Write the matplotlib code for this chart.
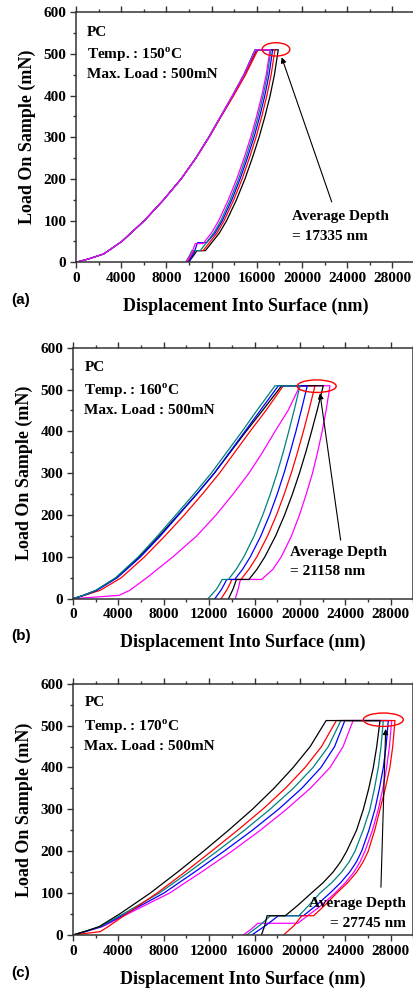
import matplotlib
matplotlib.use('Agg')
import matplotlib.pyplot as plt
from matplotlib.patches import Ellipse
from matplotlib.ticker import MultipleLocator

plt.rcParams['font.family'] = ['Liberation Serif', 'DejaVu Serif']
plt.rcParams['font.weight'] = 'bold'
plt.rcParams['mathtext.fontset'] = 'custom'
plt.rcParams['mathtext.rm'] = 'Liberation Serif:bold'
plt.rcParams['mathtext.bf'] = 'Liberation Serif:bold'

COLOR_MAP = {'black': '#000000', 'red': '#ff0000', 'blue': '#0000ff',
             'teal': '#008080', 'magenta': '#ff00ff'}

# ---------------- Panel (a) : 150 C ----------------
A_COLORS = ['black', 'red', 'blue', 'teal', 'magenta']
A_UP_LEVELS = [0, 8, 20, 50, 100, 150, 200, 250, 300, 350, 400, 450, 510]
A_UP = [
    [0, 1100, 2450, 4050, 6050, 7750, 9300, 10600, 11750, 12820, 13900, 14900, 16000],
    [0, 1100, 2450, 4050, 6050, 7750, 9300, 10620, 11780, 12850, 13950, 15000, 16100],
    [0, 1100, 2450, 4050, 6050, 7750, 9300, 10600, 11750, 12800, 13850, 14850, 15850],
    [0, 1100, 2450, 4050, 6050, 7750, 9300, 10600, 11750, 12800, 13850, 14850, 15850],
    [0, 1100, 2450, 4050, 6050, 7750, 9300, 10600, 11750, 12800, 13850, 14870, 15900],
]
A_DOWN_LEVELS = [510, 450, 400, 350, 300, 250, 200, 150, 100, 70]
A_DOWN = [
    [17900, 17560, 17180, 16720, 16200, 15600, 14950, 14200, 13330, 12680],
    [17600, 17270, 16890, 16440, 15930, 15340, 14700, 13960, 13110, 12470],
    [17400, 17080, 16710, 16260, 15750, 15160, 14520, 13790, 12950, 12300],
    [17250, 16930, 16560, 16110, 15600, 15020, 14380, 13650, 12820, 12180],
    [17170, 16830, 16440, 15980, 15460, 14870, 14220, 13480, 12630, 11980],
]
A_HOLD_LOAD = [28, 28, 47, 28, 45]
A_HOLD_START = [11450, 11250, 11550, 11000, 11250]
A_HOLD_END = [10700, 10450, 10750, 10250, 10550]
A_TAIL_LOAD = [14, 14, 23, 14, 22]
A_TAIL_MID = [10350, 10150, 10450, 10000, 10250]
A_ZERO = [9950, 9850, 9950, 9700, 9750]

# ---------------- Panel (b) : 160 C ----------------
B_COLORS = ['magenta', 'red', 'black', 'blue', 'teal']
B_UP_LEVELS = [0, 8, 20, 50, 100, 150, 200, 250, 300, 350, 400, 450, 509]
B_UP = [
    [0, 4050, 5000, 6500, 8800, 10900, 12600, 14100, 15500, 16700, 17800, 18950, 20000],
    [0, 1000, 2400, 4250, 6300, 8100, 9800, 11400, 12900, 14250, 15600, 17000, 18530],
    [0, 900, 2050, 3800, 5850, 7600, 9250, 10900, 12450, 13850, 15250, 16700, 18380],
    [0, 950, 2100, 3900, 5950, 7700, 9300, 10900, 12450, 13800, 15150, 16500, 18090],
    [0, 900, 2000, 3750, 5750, 7450, 9050, 10650, 12180, 13540, 14900, 16200, 17800],
]
B_DOWN_LEVELS = [509, 450, 400, 350, 300, 250, 200, 150, 100, 70]
B_DOWN = [
    [22640, 22300, 21950, 21550, 21100, 20550, 19950, 19250, 18350, 17600],
    [21320, 20780, 20300, 19780, 19230, 18610, 17930, 17140, 16200, 15490],
    [22050, 21510, 21020, 20510, 19950, 19330, 18640, 17850, 16900, 16200],
    [20640, 20110, 19640, 19130, 18590, 17990, 17320, 16550, 15620, 14930],
    [20000, 19480, 19010, 18520, 17980, 17380, 16720, 15960, 15050, 14370],
]
B_HOLD_LOAD = [46, 46, 46, 46, 46]
B_HOLD_START = [16620, 14800, 15500, 14250, 13700]
B_HOLD_END = [14750, 14000, 14400, 13550, 13150]
B_TAIL_LOAD = [23, 23, 23, 23, 23]
B_TAIL_MID = [14550, 13600, 14100, 13100, 12650]
B_ZERO = [14300, 13050, 13700, 12500, 11900]

# ---------------- Panel (c) : 170 C ----------------
C_COLORS = ['magenta', 'blue', 'teal', 'red', 'black']
C_UP_LEVELS = [0, 8, 20, 50, 100, 150, 200, 250, 300, 350, 400, 450, 512]
C_UP = [
    [0, 1100, 2600, 4800, 8500, 11300, 14000, 16500, 18800, 20900, 22650, 23800, 24680],
    [0, 1050, 2500, 4600, 8000, 10700, 13300, 15800, 18100, 20150, 21850, 23050, 23950],
    [0, 1000, 2400, 4400, 7600, 10200, 12700, 15100, 17350, 19400, 21150, 22500, 23600],
    [0, 2400, 3100, 4700, 7400, 9850, 12200, 14500, 16700, 18700, 20450, 21900, 23200],
    [0, 1000, 2300, 4100, 6800, 9200, 11500, 13700, 15800, 17700, 19400, 20900, 22300],
]
C_DOWN_LEVELS = [512, 450, 400, 350, 300, 250, 200, 175, 150, 125, 100, 70]
C_DOWN = [
    [28080, 27880, 27630, 27300, 26900, 26380, 25720, 25300, 24750, 24000, 23080, 21850],
    [27780, 27580, 27340, 27000, 26600, 26070, 25430, 24980, 24370, 23580, 22640, 21400],
    [27340, 27140, 26900, 26560, 26160, 25560, 24840, 24340, 23660, 22800, 21760, 20750],
    [28370, 28170, 27920, 27520, 27050, 26580, 26010, 25570, 24990, 24200, 23230, 22150],
    [27050, 26760, 26460, 26060, 25580, 24980, 24110, 23585, 22905, 22040, 21000, 19770],
]
C_HOLD_LOAD = [28, 46, 46, 46, 46]
C_HOLD_START = [19800, 20300, 19900, 21200, 18700]
C_HOLD_END = [16300, 18100, 17400, 20150, 17100]
C_TAIL_LOAD = [14, 23, 23, 23, 23]
C_TAIL_MID = [15700, 17000, 16450, 19500, 16900]
C_ZERO = [15000, 15750, 15300, 18550, 16600]

# annotation values
TEMPS = ['150', '160', '170']
AVG_DEPTHS = ['17335', '21158', '27745']
PANEL_LABELS = ['(a)', '(b)', '(c)']

SERIF = 'Liberation Serif'
SANS = 'Liberation Sans'

W, H = 414, 990
fig = plt.figure(figsize=(W / 100, H / 100), dpi=100)


def frac_rect(left, top, right, bottom):
    return [left / W, 1 - bottom / H, (right - left) / W, (bottom - top) / H]


axes_rects = [frac_rect(76, 12.3, 415, 262.3),
              frac_rect(73, 347.7, 413.5, 598.7),
              frac_rect(73, 683.7, 413.5, 935)]

panels = [
    (A_COLORS, A_UP_LEVELS, A_UP, A_DOWN_LEVELS, A_DOWN, A_HOLD_LOAD, A_HOLD_START,
     A_HOLD_END, A_TAIL_LOAD, A_TAIL_MID, A_ZERO),
    (B_COLORS, B_UP_LEVELS, B_UP, B_DOWN_LEVELS, B_DOWN, B_HOLD_LOAD, B_HOLD_START,
     B_HOLD_END, B_TAIL_LOAD, B_TAIL_MID, B_ZERO),
    (C_COLORS, C_UP_LEVELS, C_UP, C_DOWN_LEVELS, C_DOWN, C_HOLD_LOAD, C_HOLD_START,
     C_HOLD_END, C_TAIL_LOAD, C_TAIL_MID, C_ZERO),
]

ELLIPSES = [(17700, 511, 2450, 32), (21470, 508, 3440, 30), (27340, 514, 3520, 32)]
ARROWS = [((22630, 145), (18200, 492)), ((23580, 140), (21760, 491)), ((27130, 114), (27550, 492))]
AVG_POS = [(19090, 'left'), (19120, 'left'), (29350, 'right')]
AVG_Y = [(109, 63), (110, 64), (76, 28)]
INFO_X = [950, 1000, 1000]
INFO_Y = [(551, 499, 451), (552, 496, 449), (554, 498, 450)]
PANEL_LABEL_Y = [300, 636, 972.7]

for i, (rect, pdata) in enumerate(zip(axes_rects, panels)):
    colors, up_lv, ups, dn_lv, dns, hl, hs, he, tl, tm, hz = pdata
    ax = fig.add_axes(rect)
    for c, up, dn, l, s, e, ml, mx, z in zip(colors, ups, dns, hl, hs, he, tl, tm, hz):
        xs = list(up) + list(dn) + [s, e, mx, z]
        ys = list(up_lv) + list(dn_lv) + [l, l, ml, 0]
        ax.plot(xs, ys, color=COLOR_MAP[c], lw=0.9, solid_joinstyle='round')

    ax.set_xlim(0, 30000)
    ax.set_ylim(0, 600)
    ax.xaxis.set_major_locator(MultipleLocator(4000))
    ax.xaxis.set_minor_locator(MultipleLocator(2000))
    ax.yaxis.set_major_locator(MultipleLocator(100))
    ax.yaxis.set_minor_locator(MultipleLocator(50))
    ax.tick_params(which='both', direction='out', top=True, right=True,
                   color='#333333', width=1.0)
    ax.tick_params(which='major', length=4, labelsize=11, pad=3)
    ax.tick_params(which='minor', length=2.5)
    for lab in ax.get_xticklabels() + ax.get_yticklabels():
        lab.set_fontweight('bold')
        lab.set_fontfamily(SERIF)
    for sp in ax.spines.values():
        sp.set_color('#333333')
        sp.set_linewidth(1.1)

    ax.set_xlabel('Displacement Into Surface (nm)', fontsize=13, fontweight='bold',
                  family=SERIF, labelpad=9)
    ax.set_ylabel('Load On Sample (mN)', fontsize=13, fontweight='bold',
                  family=SERIF, labelpad=5)

    ix = INFO_X[i]
    y1, y2, y3 = INFO_Y[i]
    ax.text(ix, y1, 'PC', fontsize=11, fontweight='bold', family=SERIF, va='center')
    ax.text(ix, y2, 'Temp. : ' + TEMPS[i] + r'$^{\mathrm{o}}$C', fontsize=11,
            fontweight='bold', family=SERIF, va='center')
    ax.text(ix, y3, 'Max. Load : 500mN', fontsize=11, fontweight='bold', family=SERIF,
            va='center')

    ex, ey, ew, eh = ELLIPSES[i]
    ax.add_patch(Ellipse((ex, ey), ew, eh, fill=False, ec='#ff0000', lw=1.0, zorder=5))
    (tx, ty), (hx, hy) = ARROWS[i]
    ax.annotate('', xy=(hx, hy), xytext=(tx, ty),
                arrowprops=dict(arrowstyle='-|>', color='black', lw=0.8,
                                mutation_scale=8, shrinkA=0, shrinkB=0), zorder=6)

    ax_x, ha = AVG_POS[i]
    ya, yb = AVG_Y[i]
    ax.text(ax_x, ya, 'Average Depth', fontsize=11, fontweight='bold', family=SERIF,
            va='center', ha=ha, zorder=7)
    ax.text(ax_x, yb, '= ' + AVG_DEPTHS[i] + ' nm', fontsize=11, fontweight='bold',
            family=SERIF, va='center', ha=ha, zorder=7)

    fig.text(11 / W, 1 - PANEL_LABEL_Y[i] / H, PANEL_LABELS[i], fontsize=11,
             fontweight='bold', family=SANS, va='center', ha='left')

fig.savefig('out.png', dpi=100)
